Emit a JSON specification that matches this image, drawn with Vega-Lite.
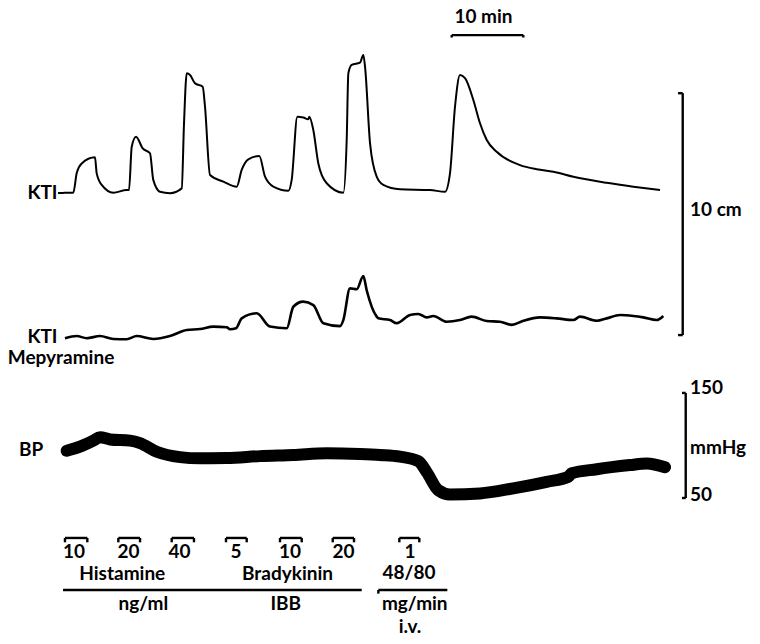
{
  "$schema": "https://vega.github.io/schema/vega-lite/v6.json",
  "width": 760,
  "height": 644,
  "autosize": {"type": "fit", "contains": "padding"},
  "padding": 0,
  "background": "white",
  "config": {"view": {"stroke": null}},
  "datasets": {
    "kti": [
      {"t": -1.40, "y": 18.63}, {"t": -0.70, "y": 18.63}, {"t": -0.43, "y": 18.64}, {"t": 0.73, "y": 18.64},
      {"t": 1.21, "y": 19.45}, {"t": 1.91, "y": 19.85}, {"t": 3.76, "y": 20.10}, {"t": 4.00, "y": 19.44},
      {"t": 4.70, "y": 18.96}, {"t": 6.32, "y": 18.64}, {"t": 8.19, "y": 18.75}, {"t": 8.51, "y": 18.75},
      {"t": 8.89, "y": 20.54}, {"t": 9.49, "y": 20.95}, {"t": 10.42, "y": 20.47}, {"t": 11.44, "y": 20.27},
      {"t": 11.90, "y": 19.17}, {"t": 12.84, "y": 18.68}, {"t": 14.23, "y": 18.62}, {"t": 15.87, "y": 18.82},
      {"t": 16.19, "y": 21.51}, {"t": 16.57, "y": 23.57}, {"t": 17.03, "y": 23.50}, {"t": 17.72, "y": 23.16},
      {"t": 18.80, "y": 23.02}, {"t": 19.12, "y": 22.19}, {"t": 19.82, "y": 19.37}, {"t": 21.68, "y": 19.10},
      {"t": 23.55, "y": 18.89}, {"t": 24.24, "y": 19.58}, {"t": 25.17, "y": 20.02}, {"t": 26.70, "y": 20.16},
      {"t": 27.50, "y": 19.30}, {"t": 28.66, "y": 18.89}, {"t": 30.75, "y": 18.72}, {"t": 31.22, "y": 19.17},
      {"t": 32.01, "y": 21.78}, {"t": 32.84, "y": 21.75}, {"t": 33.54, "y": 21.67}, {"t": 33.68, "y": 21.78},
      {"t": 34.24, "y": 21.23}, {"t": 34.94, "y": 19.85}, {"t": 36.11, "y": 19.03}, {"t": 38.43, "y": 18.64},
      {"t": 38.90, "y": 20.82}, {"t": 39.13, "y": 23.57}, {"t": 39.60, "y": 23.92}, {"t": 40.76, "y": 24.01},
      {"t": 41.22, "y": 24.33}, {"t": 41.46, "y": 23.85}, {"t": 42.16, "y": 20.68}, {"t": 43.09, "y": 19.30},
      {"t": 44.01, "y": 18.96}, {"t": 46.34, "y": 18.78}, {"t": 50.53, "y": 18.75}, {"t": 52.63, "y": 18.68},
      {"t": 53.32, "y": 19.44}, {"t": 54.02, "y": 22.19}, {"t": 54.72, "y": 23.50}, {"t": 55.42, "y": 23.37},
      {"t": 56.58, "y": 22.47}, {"t": 57.51, "y": 21.51}, {"t": 58.45, "y": 20.82}, {"t": 59.84, "y": 20.33},
      {"t": 63.10, "y": 19.78}, {"t": 65.43, "y": 19.61}, {"t": 67.75, "y": 19.51}, {"t": 70.54, "y": 19.30},
      {"t": 75.20, "y": 19.05}, {"t": 78.92, "y": 18.89}, {"t": 82.64, "y": 18.75}
    ],
    "ktiMep": [
      {"t": -0.43, "y": 12.63}, {"t": 1.21, "y": 12.72}, {"t": 2.60, "y": 12.63}, {"t": 4.46, "y": 12.72},
      {"t": 6.32, "y": 12.60}, {"t": 8.19, "y": 12.59}, {"t": 9.58, "y": 12.72}, {"t": 11.90, "y": 12.60},
      {"t": 14.23, "y": 12.72}, {"t": 16.57, "y": 12.97}, {"t": 18.42, "y": 13.01}, {"t": 20.28, "y": 13.11},
      {"t": 22.15, "y": 13.08}, {"t": 22.61, "y": 13.00}, {"t": 23.45, "y": 13.04}, {"t": 24.24, "y": 13.45},
      {"t": 26.34, "y": 13.66}, {"t": 28.19, "y": 13.11}, {"t": 30.53, "y": 13.04}, {"t": 31.45, "y": 13.93},
      {"t": 32.84, "y": 14.14}, {"t": 34.24, "y": 14.00}, {"t": 35.64, "y": 13.25}, {"t": 37.97, "y": 13.13},
      {"t": 38.43, "y": 13.38}, {"t": 39.36, "y": 14.69}, {"t": 40.30, "y": 14.65}, {"t": 41.22, "y": 15.20},
      {"t": 41.70, "y": 14.60}, {"t": 43.09, "y": 13.52}, {"t": 43.32, "y": 13.45}, {"t": 44.95, "y": 13.38},
      {"t": 45.88, "y": 13.25}, {"t": 47.74, "y": 13.59}, {"t": 48.90, "y": 13.63}, {"t": 50.07, "y": 13.49},
      {"t": 50.99, "y": 13.55}, {"t": 52.86, "y": 13.31}, {"t": 54.72, "y": 13.38}, {"t": 56.35, "y": 13.52},
      {"t": 58.45, "y": 13.34}, {"t": 60.31, "y": 13.31}, {"t": 61.94, "y": 13.18}, {"t": 63.56, "y": 13.35},
      {"t": 65.89, "y": 13.49}, {"t": 68.22, "y": 13.45}, {"t": 70.54, "y": 13.38}, {"t": 71.47, "y": 13.52},
      {"t": 73.81, "y": 13.35}, {"t": 75.20, "y": 13.45}, {"t": 77.06, "y": 13.59}, {"t": 78.92, "y": 13.55},
      {"t": 80.31, "y": 13.49}, {"t": 82.18, "y": 13.38}, {"t": 83.10, "y": 13.55}
    ],
    "bp": [
      {"t": -0.19, "y": 7.98}, {"t": 1.67, "y": 8.15}, {"t": 3.53, "y": 8.40}, {"t": 4.46, "y": 8.54},
      {"t": 5.86, "y": 8.45}, {"t": 8.65, "y": 8.40}, {"t": 10.05, "y": 8.30}, {"t": 12.38, "y": 7.94},
      {"t": 15.63, "y": 7.72}, {"t": 18.42, "y": 7.67}, {"t": 22.15, "y": 7.68}, {"t": 26.80, "y": 7.76},
      {"t": 31.45, "y": 7.81}, {"t": 36.11, "y": 7.88}, {"t": 40.76, "y": 7.85}, {"t": 43.55, "y": 7.81},
      {"t": 46.34, "y": 7.74}, {"t": 48.90, "y": 7.55}, {"t": 50.07, "y": 7.10}, {"t": 51.69, "y": 6.35},
      {"t": 53.32, "y": 6.18}, {"t": 57.51, "y": 6.22}, {"t": 62.16, "y": 6.43}, {"t": 66.83, "y": 6.70},
      {"t": 69.84, "y": 6.91}, {"t": 70.32, "y": 7.05}, {"t": 73.81, "y": 7.22}, {"t": 78.45, "y": 7.39},
      {"t": 80.79, "y": 7.46}, {"t": 83.34, "y": 7.30}
    ],
    "rules": [
      {"t": -0.43, "y": 4.38, "t2": 2.69, "y2": 4.38}, {"t": -0.43, "y": 4.38, "t2": -0.43, "y2": 4.20}, {"t": 2.69, "y": 4.38, "t2": 2.69, "y2": 4.20},
      {"t": 7.02, "y": 4.38, "t2": 10.05, "y2": 4.38}, {"t": 7.02, "y": 4.38, "t2": 7.02, "y2": 4.20}, {"t": 10.05, "y": 4.38, "t2": 10.05, "y2": 4.20},
      {"t": 14.47, "y": 4.38, "t2": 17.58, "y2": 4.38}, {"t": 14.47, "y": 4.38, "t2": 14.47, "y2": 4.20}, {"t": 17.58, "y": 4.38, "t2": 17.58, "y2": 4.20},
      {"t": 22.05, "y": 4.38, "t2": 24.94, "y2": 4.38}, {"t": 22.05, "y": 4.38, "t2": 22.05, "y2": 4.20}, {"t": 24.94, "y": 4.38, "t2": 24.94, "y2": 4.20},
      {"t": 29.59, "y": 4.38, "t2": 32.62, "y2": 4.38}, {"t": 29.59, "y": 4.38, "t2": 29.59, "y2": 4.20}, {"t": 32.62, "y": 4.38, "t2": 32.62, "y2": 4.20},
      {"t": 36.95, "y": 4.38, "t2": 39.92, "y2": 4.38}, {"t": 36.95, "y": 4.38, "t2": 36.95, "y2": 4.20}, {"t": 39.92, "y": 4.38, "t2": 39.92, "y2": 4.20},
      {"t": 46.25, "y": 4.38, "t2": 49.04, "y2": 4.38}, {"t": 46.25, "y": 4.38, "t2": 46.25, "y2": 4.20}, {"t": 49.04, "y": 4.38, "t2": 49.04, "y2": 4.20},
      {"t": 53.56, "y": 25.15, "t2": 63.56, "y2": 25.15}, {"t": 53.56, "y": 25.15, "t2": 53.56, "y2": 25.05}, {"t": 63.56, "y": 25.15, "t2": 63.56, "y2": 25.05},
      {"t": 85.81, "y": 22.75, "t2": 85.81, "y2": 12.76}, {"t": 85.16, "y": 22.75, "t2": 85.81, "y2": 22.75}, {"t": 85.16, "y": 12.76, "t2": 85.81, "y2": 12.76},
      {"t": 86.23, "y": 10.37, "t2": 86.23, "y2": 6.03}, {"t": 85.71, "y": 10.37, "t2": 86.23, "y2": 10.37}, {"t": 85.71, "y": 6.03, "t2": 86.23, "y2": 6.03},
      {"t": -0.70, "y": 2.23, "t2": 41.00, "y2": 2.23},
      {"t": 43.32, "y": 2.23, "t2": 52.95, "y2": 2.23}, {"t": 43.32, "y": 2.23, "t2": 43.32, "y2": 2.08}
    ],
    "textC": [
      {"label": "KTI", "t": -3.57, "y": 18.62},
      {"label": "KTI", "t": -3.57, "y": 12.68},
      {"label": "Mepyramine", "t": -0.98, "y": 11.81},
      {"label": "BP", "t": -5.17, "y": 8.01},
      {"label": "10 min", "t": 58.00, "y": 25.90},
      {"label": "10", "t": 0.83, "y": 3.80},
      {"label": "20", "t": 8.44, "y": 3.80},
      {"label": "40", "t": 15.56, "y": 3.80},
      {"label": "5", "t": 23.45, "y": 3.80},
      {"label": "10", "t": 30.99, "y": 3.80},
      {"label": "20", "t": 38.46, "y": 3.80},
      {"label": "1", "t": 47.74, "y": 3.80},
      {"label": "Histamine", "t": 7.57, "y": 2.89},
      {"label": "Bradykinin", "t": 30.64, "y": 2.89},
      {"label": "48/80", "t": 47.60, "y": 2.93},
      {"label": "ng/ml", "t": 10.51, "y": 1.66},
      {"label": "IBB", "t": 30.39, "y": 1.66},
      {"label": "mg/min", "t": 48.40, "y": 1.64},
      {"label": "i.v.", "t": 47.74, "y": 0.72}
    ],
    "textL": [
      {"label": "10 cm", "t": 86.83, "y": 17.93},
      {"label": "150", "t": 86.83, "y": 10.57},
      {"label": "mmHg", "t": 86.83, "y": 8.10},
      {"label": "50", "t": 86.83, "y": 6.15}
    ]
  },
  "encoding": {
    "x": {"field": "t", "type": "quantitative", "axis": null, "scale": {"domain": [-9.5, 96.6], "nice": false, "zero": false}},
    "y": {"field": "y", "type": "quantitative", "axis": null, "scale": {"domain": [0, 26.6], "nice": false, "zero": false}}
  },
  "layer": [
    {
      "data": {"name": "bp"},
      "mark": {"type": "line", "color": "#000000", "strokeWidth": 12, "strokeCap": "round", "strokeJoin": "round", "interpolate": "monotone"}
    },
    {
      "data": {"name": "kti"},
      "mark": {"type": "line", "color": "#000000", "strokeWidth": 2, "strokeJoin": "round", "interpolate": "monotone"}
    },
    {
      "data": {"name": "ktiMep"},
      "mark": {"type": "line", "color": "#000000", "strokeWidth": 2.6, "strokeJoin": "round", "interpolate": "monotone"}
    },
    {
      "data": {"name": "rules"},
      "mark": {"type": "rule", "color": "#000000", "strokeWidth": 2.4},
      "encoding": {
        "x2": {"field": "t2"},
        "y2": {"field": "y2"}
      }
    },
    {
      "data": {"name": "textC"},
      "mark": {"type": "text", "font": "Lato", "fontWeight": "bold", "fontSize": 19, "align": "center", "baseline": "middle", "color": "#000000"},
      "encoding": {"text": {"field": "label"}}
    },
    {
      "data": {"name": "textL"},
      "mark": {"type": "text", "font": "Lato", "fontWeight": "bold", "fontSize": 19, "align": "left", "baseline": "middle", "color": "#000000"},
      "encoding": {"text": {"field": "label"}}
    }
  ]
}
